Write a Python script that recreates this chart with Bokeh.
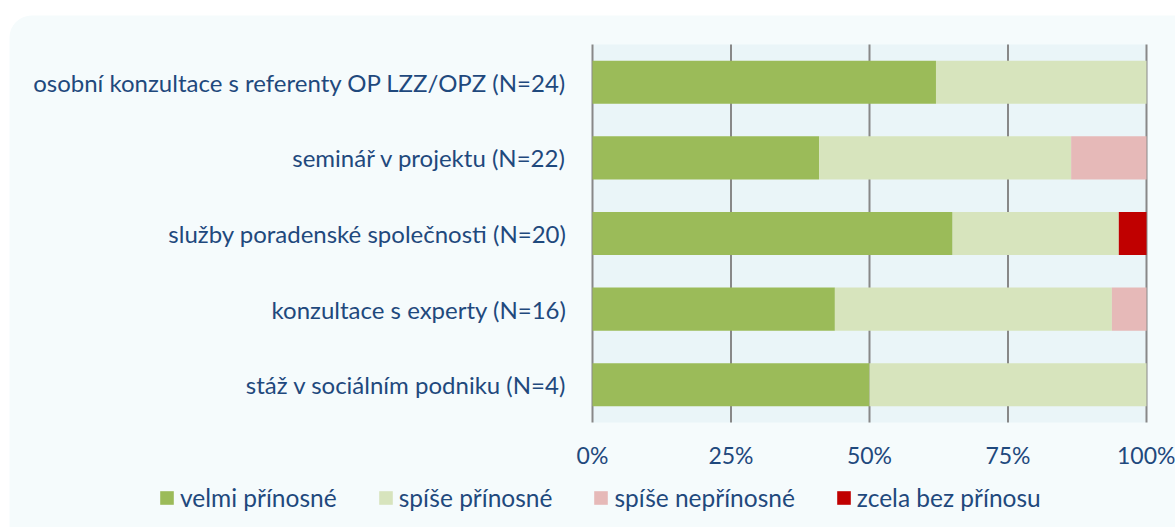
from bokeh.plotting import figure
from bokeh.models import ColumnDataSource, Range1d, FixedTicker, Legend, LegendItem, LinearAxis, BoxAnnotation
from bokeh.embed import file_html
from bokeh.resources import INLINE

categories = [
    "osobní konzultace s referenty OP LZZ/OPZ (N=24)",
    "seminář v projektu (N=22)",
    "služby poradenské společnosti (N=20)",
    "konzultace s experty (N=16)",
    "stáž v sociálním podniku (N=4)",
]
series_names = ["velmi přínosné", "spíše přínosné", "spíše nepřínosné", "zcela bez přínosu"]
velmi_prinosne = [62.0, 40.9, 65.0, 43.75, 50.0]
spise_prinosne = [38.0, 45.5, 30.0, 50.0, 50.0]
spise_neprinosne = [0.0, 13.6, 0.0, 6.25, 0.0]
zcela_bez_prinosu = [0.0, 0.0, 5.0, 0.0, 0.0]
colors = ["#9BBB59", "#D7E4BD", "#E6B9B8", "#C00000"]
tick_values = [0, 25, 50, 75, 100]
tick_labels = ["0%", "25%", "50%", "75%", "100%"]

FONT = "Lato"
TEXT_COLOR = "#1F497D"
PANEL = "#F5FBFC"
PLOT_BG = "#EAF5F8"
GRID = "#888888"

# ---- layout geometry (pixels inside the figure) ----
W, H = 1175, 527
AREA_L, AREA_R = 592, 1146      # plot area left/right
AREA_T, AREA_B = 44, 422        # plot area top/bottom
PANEL_L, PANEL_T = 9, 15        # rounded background panel

n = len(categories)
ypos = [n - 1 - i for i in range(n)]          # first category on top
xmin, xmax = tick_values[0], tick_values[-1]
ylo, yhi = -0.5, n - 0.5

sx = (AREA_R - AREA_L) / (xmax - xmin)
sy = (AREA_B - AREA_T) / (yhi - ylo)
x_range = Range1d(xmin - AREA_L / sx, xmax + (W - AREA_R) / sx)
y_range = Range1d(ylo - (H - AREA_B) / sy, yhi + AREA_T / sy)

keys = ["s0", "s1", "s2", "s3"]
source = ColumnDataSource(dict(
    y=ypos,
    s0=velmi_prinosne,
    s1=spise_prinosne,
    s2=spise_neprinosne,
    s3=zcela_bez_prinosu,
))

p = figure(
    width=W, height=H, x_range=x_range, y_range=y_range,
    x_axis_location=None, y_axis_location=None,
    output_backend="svg", toolbar_location=None,
    min_border_left=0, min_border_right=0, min_border_top=0, min_border_bottom=0,
)
p.background_fill_color = "white"
p.border_fill_color = "white"
p.outline_line_color = None
p.grid.visible = False

# rounded light panel behind everything
panel = BoxAnnotation(
    left=xmin + (PANEL_L - AREA_L) / sx, right=x_range.end + 20,
    top=yhi + (AREA_T - PANEL_T) / sy, bottom=y_range.start - 2,
    fill_color=PANEL, fill_alpha=1, line_color=None, border_radius=22, level="underlay",
)
p.add_layout(panel)

# plot area background and vertical grid lines
p.quad(left=[xmin], right=[xmax], bottom=[ylo], top=[yhi], color=PLOT_BG, line_color=None)
p.segment(x0=tick_values, y0=[ylo] * len(tick_values), x1=tick_values, y1=[yhi] * len(tick_values),
          line_color=GRID, line_width=2)

renderers = p.hbar_stack(keys, y="y", height=0.57, color=colors, line_color=None, source=source)

xaxis = LinearAxis(fixed_location=ylo, ticker=FixedTicker(ticks=tick_values),
                   major_label_overrides={v: l for v, l in zip(tick_values, tick_labels)})
yaxis = LinearAxis(fixed_location=xmin, ticker=FixedTicker(ticks=ypos),
                   major_label_overrides={y: c for y, c in zip(ypos, categories)})
for ax in (xaxis, yaxis):
    ax.axis_line_color = None
    ax.major_tick_line_color = None
    ax.minor_tick_line_color = None
    ax.major_tick_out = 0
    ax.major_tick_in = 0
    ax.major_label_text_font = FONT
    ax.major_label_text_color = TEXT_COLOR
xaxis.major_label_text_font_size = "23px"
yaxis.major_label_text_font_size = "24px"
xaxis.major_label_standoff = 18
yaxis.major_label_standoff = 26
p.add_layout(xaxis, "below")
p.add_layout(yaxis, "left")

legend = Legend(
    items=[LegendItem(label=nm, renderers=[r]) for nm, r in zip(series_names, renderers)],
    orientation="horizontal",
    location=(158, 15),
    padding=0, margin=0, spacing=40,
    glyph_width=17, glyph_height=17, label_standoff=5, label_height=15,
    label_text_font=FONT, label_text_font_size="24.5px", label_text_color=TEXT_COLOR,
    background_fill_alpha=0, border_line_color=None,
)
p.add_layout(legend)

open("out.html", "w").write(file_html(p, INLINE))
